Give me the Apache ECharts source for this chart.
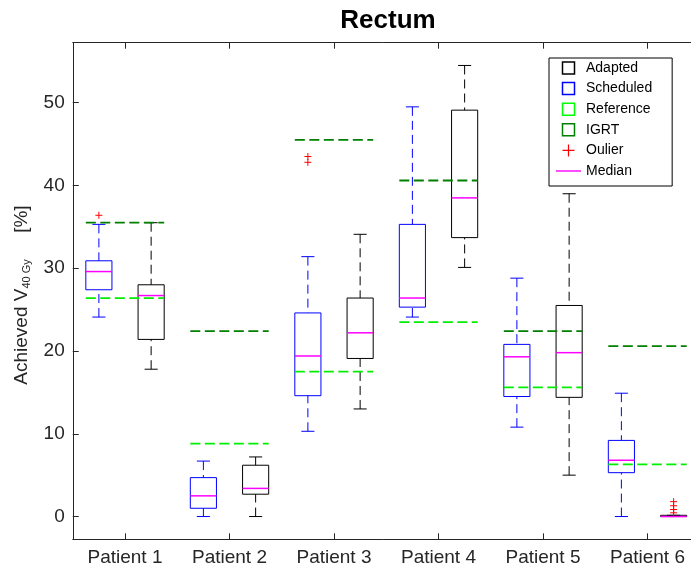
<!DOCTYPE html>
<html>
<head>
<meta charset="utf-8">
<script src="https://cdn.jsdelivr.net/npm/echarts@6/dist/echarts.min.js"></script>
<style>
html,body{margin:0;padding:0;background:#fff;}
#chart{width:691px;height:570px;}
</style>
</head>
<body>
<div id="chart"></div>
<script>
// ---------------- data ----------------
const patients = ['Patient 1', 'Patient 2', 'Patient 3', 'Patient 4', 'Patient 5', 'Patient 6'];
// [lower whisker, Q1, median, Q3, upper whisker]
const scheduledStats = [
  [24.1, 27.4, 29.6, 30.9, 35.3],
  [0.0, 1.0, 2.5, 4.7, 6.7],
  [10.3, 14.6, 19.4, 24.6, 31.4],
  [24.1, 25.3, 26.4, 35.3, 49.5],
  [10.8, 14.5, 19.3, 20.8, 28.8],
  [0.0, 5.3, 6.8, 9.2, 14.9]
];
const adaptedStats = [
  [17.8, 21.4, 26.7, 28.0, 35.5],
  [0.0, 2.7, 3.4, 6.2, 7.2],
  [13.0, 19.1, 22.2, 26.4, 34.1],
  [30.1, 33.7, 38.5, 49.1, 54.5],
  [5.0, 14.4, 19.8, 25.5, 39.0],
  [0.0, 0.0, 0.0, 0.15, 0.15]
];
const referenceValues = [26.4, 8.8, 17.5, 23.5, 15.6, 6.3];
const igrtValues = [35.5, 22.4, 45.5, 40.6, 22.4, 20.6];
const scheduledOutliers = [['Patient 1', 36.4], ['Patient 3', 43.5], ['Patient 3', 42.8]];
const adaptedOutliers = [['Patient 6', 1.8], ['Patient 6', 1.3], ['Patient 6', 0.85], ['Patient 6', 0.45]];
const yTicks = [0, 10, 20, 30, 40, 50];

// ---------------- styling ----------------
const FONT = '"Liberation Sans", Arial, Helvetica, sans-serif';
const AXIS_COLOR = '#262626';
const BLUE = '#0000ff', BLACK = '#000000', LIME = '#00ee00', DKGREEN = '#007f00', MAGENTA = '#ff00ff', RED = '#ff0000';

function boxRenderer(side, color) {
  return function (params, api) {
    const i = api.value(0);
    const band = api.size([1, 0])[0];
    const cx = api.coord([i, 0])[0] + side * 0.25 * band;
    const y = k => api.coord([i, api.value(k)])[1];
    const lo = y(1), q1 = y(2), q3 = y(4), hi = y(5);
    const hw = 0.125 * band, cw = 0.0625 * band;
    const solid = { stroke: color, lineWidth: 1, fill: null };
    const dashed = { stroke: color, lineWidth: 1, lineDash: [9, 5], fill: null };
    return {
      type: 'group', children: [
        { type: 'line', shape: { x1: cx, y1: hi, x2: cx, y2: q3 }, style: dashed },
        { type: 'line', shape: { x1: cx, y1: lo, x2: cx, y2: q1 }, style: dashed },
        { type: 'line', shape: { x1: cx - cw, y1: hi, x2: cx + cw, y2: hi }, style: solid },
        { type: 'line', shape: { x1: cx - cw, y1: lo, x2: cx + cw, y2: lo }, style: solid },
        { type: 'rect', shape: { x: cx - hw, y: q3, width: 2 * hw, height: Math.max(q1 - q3, 1) }, style: { stroke: color, lineWidth: 1, fill: 'rgba(0,0,0,0)' } }
      ]
    };
  };
}
function medianRenderer(side) {
  return function (params, api) {
    const i = api.value(0);
    const band = api.size([1, 0])[0];
    const p = api.coord([i, api.value(1)]);
    const cx = p[0] + side * 0.25 * band;
    const hw = 0.125 * band;
    return { type: 'line', shape: { x1: cx - hw, y1: p[1], x2: cx + hw, y2: p[1] }, style: { stroke: MAGENTA, lineWidth: 1.5 } };
  };
}
function refRenderer(color) {
  return function (params, api) {
    const i = api.value(0);
    const band = api.size([1, 0])[0];
    const p = api.coord([i, api.value(1)]);
    return { type: 'line', shape: { x1: p[0] - 0.375 * band, y1: p[1], x2: p[0] + 0.375 * band, y2: p[1] }, style: { stroke: color, lineWidth: 1.8, lineDash: [10, 4.5] } };
  };
}
function outlierRenderer(side) {
  return function (params, api) {
    const i = api.value(0);
    const band = api.size([1, 0])[0];
    const p = api.coord([i, api.value(1)]);
    const cx = p[0] + side * 0.25 * band, cy = p[1], s = 3.5;
    return {
      type: 'group', children: [
        { type: 'line', shape: { x1: cx - s, y1: cy, x2: cx + s, y2: cy }, style: { stroke: RED, lineWidth: 1 } },
        { type: 'line', shape: { x1: cx, y1: cy - s, x2: cx, y2: cy + s }, style: { stroke: RED, lineWidth: 1 } }
      ]
    };
  };
}

const boxData = stats => patients.map((p, i) => [p].concat(stats[i]));
const medData = stats => patients.map((p, i) => [p, stats[i][2]]);
const lineData = vals => patients.map((p, i) => [p, vals[i]]);

const SQUARE = 'path://M0,0H10V10H0Z';
const option = {
  animation: false,
  backgroundColor: '#ffffff',
  title: {
    text: 'Rectum', left: 383, top: 3, textAlign: 'center',
    textStyle: { fontFamily: FONT, fontSize: 26, fontWeight: 'bold', color: '#000' }
  },
  grid: { left: 72.75, top: 42.7, width: 627, height: 496.6, outerBoundsMode: 'none', containLabel: false },
  legend: {
    orient: 'vertical', left: 549, top: 58, padding: [3, 20, 8, 7], itemGap: 6.6,
    itemWidth: 25, itemHeight: 12, borderColor: '#000', borderWidth: 1, backgroundColor: '#fff',
    selectedMode: false,
    textStyle: { fontFamily: FONT, fontSize: 14, color: '#000' },
    data: [
      { name: 'Adapted', icon: SQUARE, itemStyle: { color: 'rgba(0,0,0,0)', borderColor: BLACK, borderWidth: 1.5 } },
      { name: 'Scheduled', icon: SQUARE, itemStyle: { color: 'rgba(0,0,0,0)', borderColor: BLUE, borderWidth: 1.5 } },
      { name: 'Reference', icon: SQUARE, itemStyle: { color: 'rgba(0,0,0,0)', borderColor: '#00ff00', borderWidth: 1.5 } },
      { name: 'IGRT', icon: SQUARE, itemStyle: { color: 'rgba(0,0,0,0)', borderColor: DKGREEN, borderWidth: 1.5 } },
      { name: 'Oulier', icon: 'path://M0,4.5H10V5.5H0ZM4.5,0H5.5V10H4.5Z', itemStyle: { color: RED, borderWidth: 0 } },
      { name: 'Median', icon: 'path://M0,0H25V1.4H0Z', itemStyle: { color: MAGENTA, borderWidth: 0 } }
    ]
  },
  xAxis: [
    {
      type: 'category', data: patients, position: 'bottom',
      axisLine: { show: true, onZero: false, lineStyle: { color: AXIS_COLOR, width: 1 } },
      axisTick: { show: true, inside: true, length: 6, alignWithLabel: true, lineStyle: { color: AXIS_COLOR } },
      axisLabel: { show: true, margin: 9, fontFamily: FONT, fontSize: 19, color: AXIS_COLOR },
      splitLine: { show: false }
    },
    {
      type: 'category', data: patients, position: 'top',
      axisLine: { show: true, onZero: false, lineStyle: { color: AXIS_COLOR, width: 1 } },
      axisTick: { show: true, inside: true, length: 6, alignWithLabel: true, lineStyle: { color: AXIS_COLOR } },
      axisLabel: { show: false },
      splitLine: { show: false }
    }
  ],
  yAxis: {
    type: 'value', min: -2.75, max: 57.25,
    axisLine: { show: true, onZero: false, lineStyle: { color: AXIS_COLOR, width: 1 } },
    axisTick: { show: true, inside: true, length: 6, customValues: yTicks, lineStyle: { color: AXIS_COLOR } },
    axisLabel: { show: true, customValues: yTicks, margin: 8, fontFamily: FONT, fontSize: 19, color: AXIS_COLOR },
    splitLine: { show: false },
    name: '{a|Achieved V}{s|40 Gy}{a|     [%]}',
    nameLocation: 'middle', nameRotate: 90, nameGap: 40,
    nameTextStyle: {
      color: AXIS_COLOR,
      padding: [0, 8, 0, 0],
      rich: {
        a: { fontFamily: FONT, fontSize: 19, color: AXIS_COLOR },
        s: { fontFamily: FONT, fontSize: 11, color: AXIS_COLOR, padding: [10, 0, 0, 0] }
      }
    }
  },
  series: [
    { name: 'Adapted', type: 'custom', renderItem: boxRenderer(1, BLACK), data: boxData(adaptedStats), encode: { x: 0, y: [1, 2, 3, 4, 5] }, z: 2 },
    { name: 'Scheduled', type: 'custom', renderItem: boxRenderer(-1, BLUE), data: boxData(scheduledStats), encode: { x: 0, y: [1, 2, 3, 4, 5] }, z: 2 },
    { name: 'Reference', type: 'custom', renderItem: refRenderer(LIME), data: lineData(referenceValues), encode: { x: 0, y: 1 }, z: 4 },
    { name: 'IGRT', type: 'custom', renderItem: refRenderer(DKGREEN), data: lineData(igrtValues), encode: { x: 0, y: 1 }, z: 4 },
    { name: 'Oulier', type: 'custom', renderItem: outlierRenderer(-1), data: scheduledOutliers, encode: { x: 0, y: 1 }, z: 5 },
    { name: 'Oulier', type: 'custom', renderItem: outlierRenderer(1), data: adaptedOutliers, encode: { x: 0, y: 1 }, z: 5 },
    { name: 'Median', type: 'custom', renderItem: medianRenderer(-1), data: medData(scheduledStats), encode: { x: 0, y: 1 }, z: 3 },
    { name: 'Median', type: 'custom', renderItem: medianRenderer(1), data: medData(adaptedStats), encode: { x: 0, y: 1 }, z: 3 }
  ]
};
const chart = echarts.init(document.getElementById('chart'), null, { renderer: 'canvas' });
chart.setOption(option);
</script>
</body>
</html>
